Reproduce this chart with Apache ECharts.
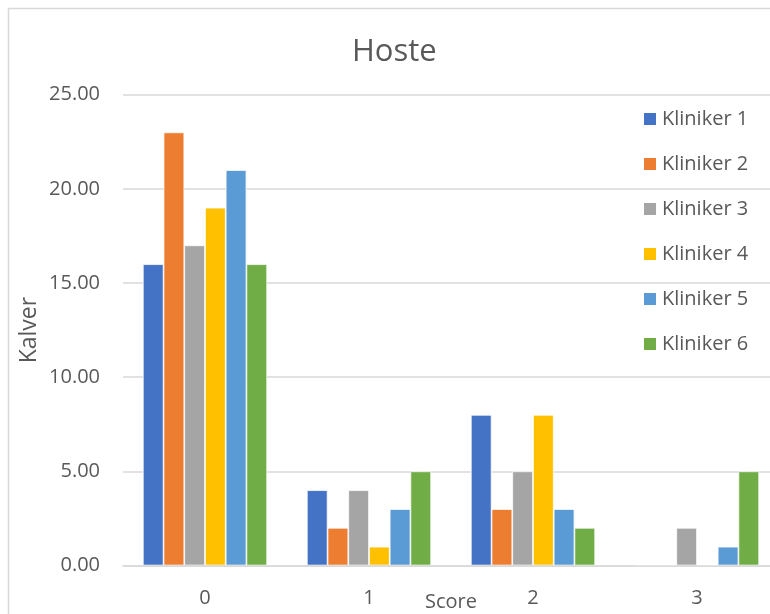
<!DOCTYPE html>
<html>
<head>
<meta charset="utf-8">
<title>Hoste</title>
<script src="https://cdn.jsdelivr.net/npm/echarts@6/dist/echarts.min.js"></script>
<style>
  html, body { margin: 0; padding: 0; background: #ffffff; }
  #chart { width: 770px; height: 614px; }
</style>
</head>
<body>
<div id="chart"></div>
<script>
// Score categories on the x axis
const categories = ['0', '1', '2', '3'];

// Number of calves per score, one array per clinician
const kliniker1 = [16, 4, 8, 0];
const kliniker2 = [23, 2, 3, 0];
const kliniker3 = [17, 4, 5, 2];
const kliniker4 = [19, 1, 8, 0];
const kliniker5 = [21, 3, 3, 1];
const kliniker6 = [16, 5, 2, 5];

const seriesNames = ['Kliniker 1', 'Kliniker 2', 'Kliniker 3', 'Kliniker 4', 'Kliniker 5', 'Kliniker 6'];
const seriesValues = [kliniker1, kliniker2, kliniker3, kliniker4, kliniker5, kliniker6];
const palette = ['#4472C4', '#ED7D31', '#A5A5A5', '#FFC000', '#5B9BD5', '#70AD47'];

const textColor = '#595959';
const lineColor = '#d9d9d9';
const fontFamily = '"Open Sans", "Noto Sans", sans-serif';

const chart = echarts.init(document.getElementById('chart'), null, { renderer: 'canvas' });

chart.setOption({
  animation: false,
  backgroundColor: '#ffffff',
  color: palette,
  textStyle: { fontFamily: fontFamily, color: textColor },
  title: {
    text: 'Hoste',
    left: 352,
    top: 37,
    padding: 0,
    textStyle: { fontFamily: fontFamily, fontSize: 31, fontWeight: 'normal', color: textColor }
  },
  graphic: [{
    type: 'rect',
    shape: { x: 8.5, y: 8.5, width: 900, height: 900 },
    style: { fill: 'none', stroke: lineColor, lineWidth: 1.5 },
    silent: true,
    z: -1
  }],
  legend: {
    orient: 'vertical',
    left: 642,
    top: 109,
    padding: 0,
    itemWidth: 14,
    itemHeight: 14,
    itemGap: 25,
    icon: 'rect',
    textStyle: { fontFamily: fontFamily, fontSize: 20, color: textColor },
    data: seriesNames
  },
  grid: {
    left: 123,
    right: -9,
    top: 94.7,
    bottom: 48.5,
    containLabel: false,
    outerBoundsMode: 'none'
  },
  xAxis: {
    type: 'category',
    data: categories,
    z: 3,
    name: 'Score',
    nameLocation: 'middle',
    nameGap: 27,
    nameMoveOverlap: false,
    nameTextStyle: { fontFamily: fontFamily, fontSize: 20, color: textColor },
    axisLine: { show: true, lineStyle: { color: lineColor, width: 1.5 } },
    axisTick: { show: false },
    axisLabel: { fontFamily: fontFamily, fontSize: 20, color: textColor, margin: 23 }
  },
  yAxis: {
    type: 'value',
    min: 0,
    max: 25,
    interval: 5,
    name: 'Kalver',
    nameLocation: 'middle',
    nameRotate: 90,
    nameGap: 82,
    nameMoveOverlap: false,
    nameTextStyle: { fontFamily: fontFamily, fontSize: 23, color: textColor },
    axisLine: { show: false },
    axisTick: { show: false },
    axisLabel: {
      fontFamily: fontFamily, fontSize: 20, color: textColor, margin: 23,
      formatter: v => v.toFixed(2)
    },
    splitLine: { lineStyle: { color: lineColor, width: 1.5 } }
  },
  series: seriesNames.map((name, i) => ({
    name: name,
    type: 'bar',
    data: seriesValues[i],
    barGap: '0%',
    barCategoryGap: '24.2%',
    itemStyle: { color: palette[i], borderColor: '#ffffff', borderWidth: 0.75 }
  }))
});
</script>
</body>
</html>
